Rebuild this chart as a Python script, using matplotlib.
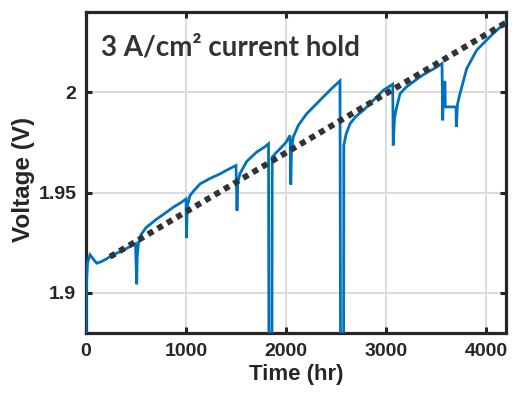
import matplotlib
matplotlib.use("Agg")
import matplotlib.pyplot as plt

plt.rcParams["font.family"] = ["Liberation Sans", "DejaVu Sans"]
plt.rcParams["font.weight"] = "bold"

# --- data ---
time_hr = [0, 5, 15, 40, 70, 107, 150, 200, 273, 363, 430, 495,
           507, 512, 525, 550, 600, 707, 800, 873, 950, 1000,
           1005, 1012, 1040, 1080, 1140, 1240, 1340, 1420, 1500,
           1510, 1518, 1540, 1607, 1707, 1780, 1825,
           1832, 1858, 1862, 1900, 1940, 2000, 2040,
           2048, 2055, 2073, 2123, 2207, 2300, 2373, 2460, 2540,
           2548, 2575, 2578, 2600, 2640, 2700, 2773, 2840, 2940, 2973, 3067,
           3072, 3085, 3100, 3140, 3200, 3273, 3350, 3423, 3490, 3560,
           3567, 3575, 3590, 3593, 3700, 3703, 3715, 3740, 3807, 3907, 4040, 4200]
voltage_v = [1.880, 1.905, 1.915, 1.9190, 1.917, 1.9148, 1.9155, 1.9168, 1.919, 1.921, 1.9228, 1.9245,
             1.9043, 1.918, 1.925, 1.929, 1.9325, 1.9368, 1.940, 1.9427, 1.945, 1.9468,
             1.9273, 1.943, 1.9485, 1.951, 1.9543, 1.957, 1.9593, 1.9615, 1.9635,
             1.941, 1.955, 1.9595, 1.9655, 1.9702, 1.9725, 1.9743,
             1.80, 1.80, 1.9677, 1.9698, 1.9718, 1.975, 1.9785,
             1.954, 1.972, 1.9777, 1.9835, 1.9893, 1.994, 1.9977, 2.002, 2.0057,
             1.80, 1.80, 1.9735, 1.979, 1.9843, 1.988, 1.991, 1.9943, 1.9993, 2.001, 2.004,
             1.9735, 1.987, 1.991, 1.9993, 2.0025, 2.0052, 2.008, 2.0102, 2.012, 2.0143,
             1.986, 2.005, 2.005, 1.9927, 1.9927, 1.9827, 1.994, 1.9993, 2.0118, 2.021, 2.0277, 2.0352]

trend_t = [240, 4200]
trend_v = [1.918, 2.0347]

x_ticks = [0, 1000, 2000, 3000, 4000]
y_ticks = [1.9, 1.95, 2.0]
y_tick_labels = ["1.9", "1.95", "2"]

title_text = "3 A/cm\u00b2 current hold"
x_label = "Time (hr)"
y_label = "Voltage (V)"

# --- figure ---
fig = plt.figure(figsize=(5.14, 3.93), dpi=100)
ax = fig.add_axes([86/514, 60/393, 420/514, 321/393])

ax.plot(time_hr, voltage_v, color="#0072BD", lw=2.0, solid_joinstyle="miter", zorder=3)
tl, = ax.plot(trend_t, trend_v, color="#333333", lw=4.3, zorder=4)
tl.set_dashes((1, 0.85))
tl.set_dash_capstyle("butt")

ax.set_xlim(0, 4200)
ax.set_ylim(1.88, 2.04)
ax.set_xticks(x_ticks)
ax.set_yticks(y_ticks)
ax.set_yticklabels(y_tick_labels)

ax.grid(True, color="#dcdcdc", lw=1.4)
ax.set_axisbelow(True)

ax.tick_params(direction="in", length=4, width=2.2, top=True, right=True,
               colors="#262626", labelsize=14, pad=7)
for sp in ax.spines.values():
    sp.set_linewidth(2.3)
    sp.set_color("#262626")

ax.set_xlabel(x_label, fontsize=16, fontweight="bold", color="#262626", labelpad=3)
ax.set_ylabel(y_label, fontsize=17.5, fontweight="bold", color="#262626")
ax.yaxis.set_label_coords(-0.121, 0.477)

ax.text(0.035, 0.93, title_text, transform=ax.transAxes, family=["Lato", "DejaVu Sans"],
        fontweight="bold", fontsize=20, color="#333333", ha="left", va="top")

fig.savefig("out.png", dpi=100)
